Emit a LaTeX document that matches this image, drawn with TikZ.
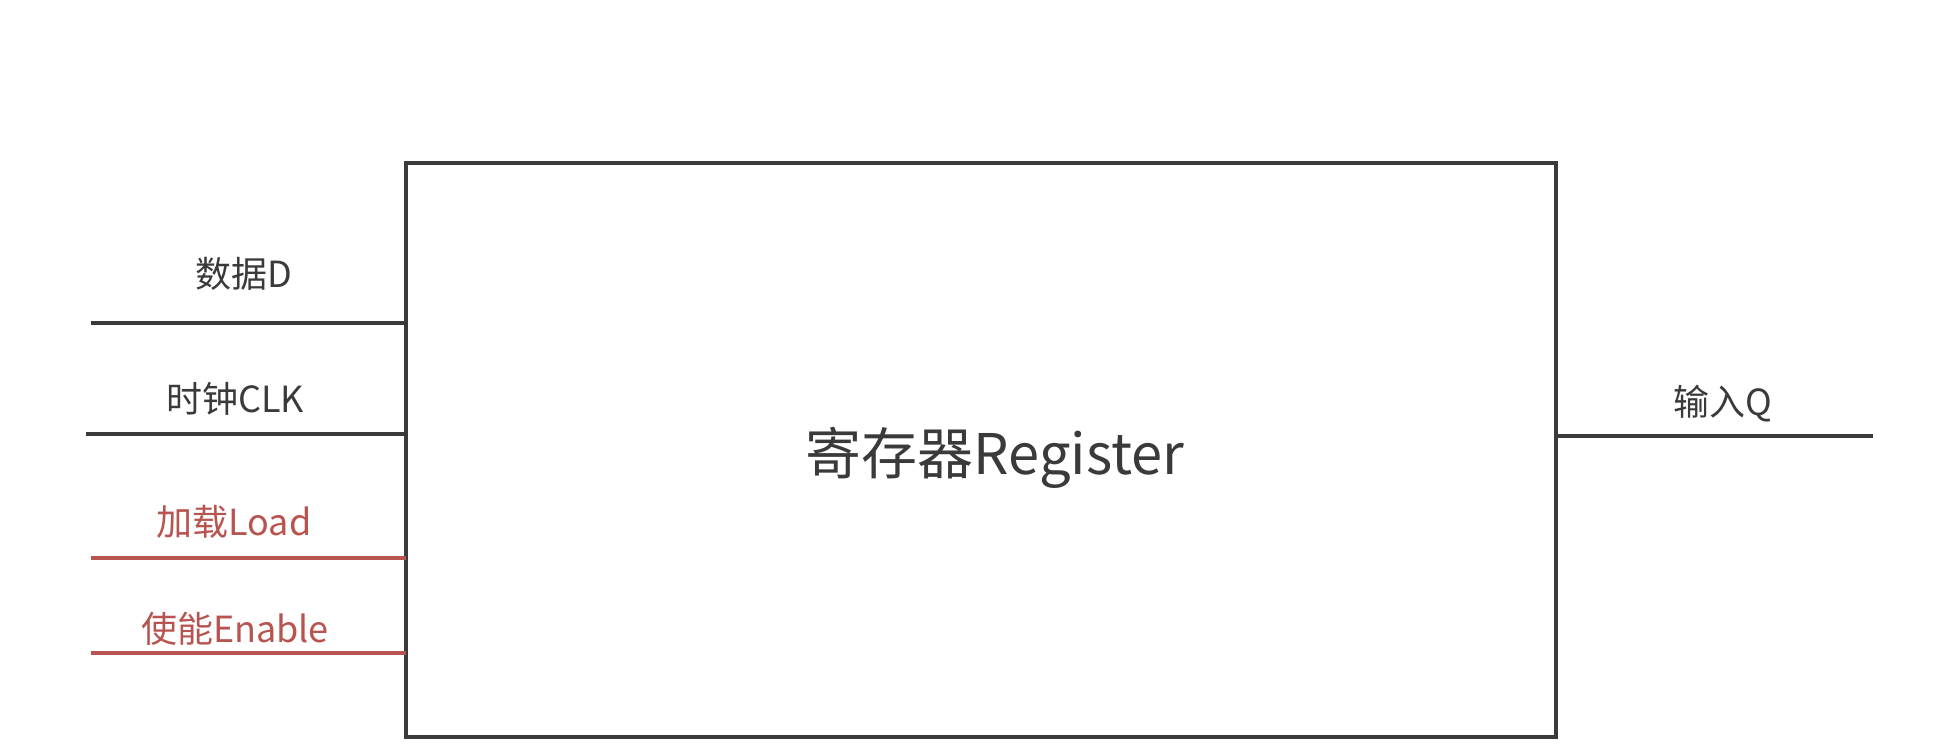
\documentclass[tikz,border=0pt]{standalone}
\usepackage{fontspec}
\setmainfont{Noto Sans CJK SC}
\definecolor{wireGray}{RGB}{58,58,60}
\definecolor{wireRed}{RGB}{184,84,80}
\tikzset{every picture/.style={line width=3pt}}
\tikzset{
  regbox/.style={draw=wireGray, line width=3pt, inner sep=0pt, outer sep=0pt,
    minimum width=862.5pt, minimum height=430.5pt},
  wire/.style={draw=wireGray, line width=3pt},
  redwire/.style={draw=wireRed, line width=3pt},
  pinlabel/.style={anchor=base, inner sep=0.75pt, text=wireGray, font=\fontsize{27}{32}\selectfont},
  redlabel/.style={pinlabel, text=wireRed}
}
\begin{document}
\begin{tikzpicture}[x=0.75pt,y=0.75pt,yscale=-1,xscale=1]
	\useasboundingbox (0,0) rectangle (1948,750);

	%Shape: Rectangle [id:register]
	\node (reg) [regbox] at (981,450) {};
	% Text Node
	\node (title) [anchor=base, inner sep=0.75pt, text=wireGray, font=\fontsize{42}{50}\selectfont] at (995,474) {寄存器Register};

	%Straight Lines [id:inputs]
	\coordinate (dIn) at (91,323);
	\coordinate (clkIn) at (86,434);
	\coordinate (ldIn) at (91,558);
	\coordinate (enIn) at (91,653);
	\coordinate (qOut) at (1873,436);
	\draw [wire] (dIn) -- (dIn -| reg.west);
	\draw [wire] (clkIn) -- (clkIn -| reg.west);
	\draw [redwire] (ldIn) -- (ldIn -| reg.west);
	\draw [redwire] (enIn) -- (enIn -| reg.west);
	%Straight Lines [id:output]
	\draw [wire] (qOut -| reg.east) -- (qOut);

	% Text Node
	\node (dLbl) [pinlabel] at (244,287) {数据D};
	% Text Node
	\node (clkLbl) [pinlabel] at (235,412) {时钟CLK};
	% Text Node
	\node (ldLbl) [redlabel] at (234,535) {加载Load};
	% Text Node
	\node (enLbl) [redlabel] at (235,642) {使能Enable};
	% Text Node
	\node (qLbl) [pinlabel] at (1723,415) {输入Q};
\end{tikzpicture}
\end{document}
